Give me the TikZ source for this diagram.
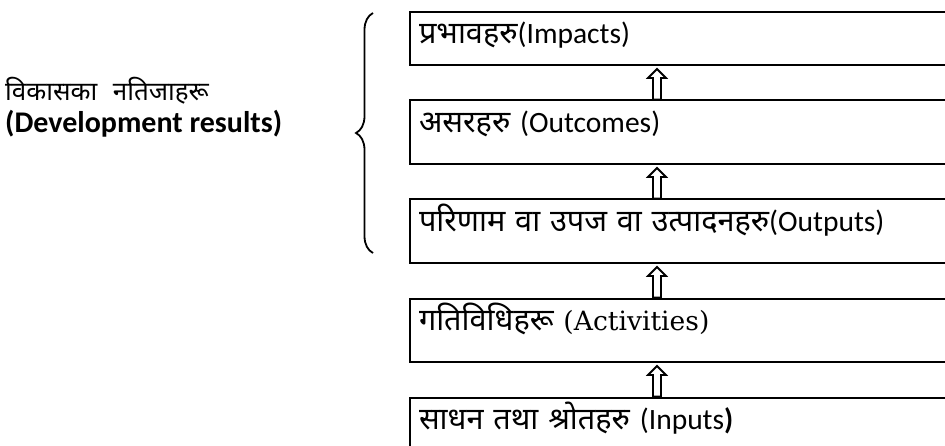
\documentclass[tikz,border=0pt]{standalone}
\usepackage{fontspec}
\setmainfont{Carlito}
\newfontfamily\deva[Script=Devanagari, WordSpace=2.3, Scale=1.04]{Noto Sans}
\newfontfamily\actfont[Scale=0.9]{DejaVu Serif}
\usetikzlibrary{positioning,calc,decorations.pathreplacing}
\tikzset{stage/.style={rectangle, draw, line width=2pt, text width=533pt, align=left, inner xsep=9pt, inner ysep=0pt,
 text height=32pt, text depth=31.5pt, font=\fontsize{29.5}{32}\selectfont}}
\tikzset{toplevel/.style={stage, text depth=21pt}}
\tikzset{hollow/.style={draw, line width=1.8pt, to path={let \p1=(\tikztostart), \p2=(\tikztotarget) in
 (\x1-4pt,\y1) -- (\x1-4pt,\y2-12pt) -- (\x1-9pt,\y2-12pt) -- (\x1,\y2-3pt) -- (\x1+9pt,\y2-12pt) -- (\x1+4pt,\y2-12pt) -- (\x1+4pt,\y1) -- cycle}}}
\tikzset{curly/.style={draw, line width=1.8pt, decorate, decoration={brace, amplitude=17pt}}}
\begin{document}
\begin{tikzpicture}[x=1pt, y=1pt, node distance=33.5pt]
        \path[use as bounding box] (0,0) rectangle (945,445);
        \clip (0,0) rectangle (945,445);
        \node[toplevel, anchor=north west] (imp) at (409,434) {{\deva प्रभावहरु}(Impacts)};
        \node[stage, below=of imp]   (outc) {{\deva असरहरु} (Outcomes)};
        \node[stage, below=of outc]  (outp) {{\deva परिणाम वा उपज वा उत्पादनहरु}(Outputs)};
        \node[stage, below=of outp]  (actv) {{\deva गतिविधिहरू} {\actfont(Activities)}};
        \node[stage, below=of actv]  (inpt) {{\deva साधन तथा श्रोतहरु} (Inputs\textbf{)}};
        \node[anchor=north west, align=left, inner sep=0pt, font=\fontsize{30}{32}\selectfont] (res) at (5,368)
          {{\fontsize{25}{32}\selectfont\deva विकासका नतिजाहरू}\\\textbf{(Development results)}};
        \coordinate (ax) at (657,0);

        \path[hollow] (outc.north -| ax) to (imp.south -| ax);
        \path[hollow] (outp.north -| ax) to (outc.south -| ax);
        \path[hollow] (actv.north -| ax) to (outp.south -| ax);
        \path[hollow] (inpt.north -| ax) to (actv.south -| ax);
        \path[curly] ([xshift=-36pt,yshift=11pt]outp.south west) -- ([xshift=-36pt,yshift=-2pt]imp.north west);
      \end{tikzpicture}
\end{document}
